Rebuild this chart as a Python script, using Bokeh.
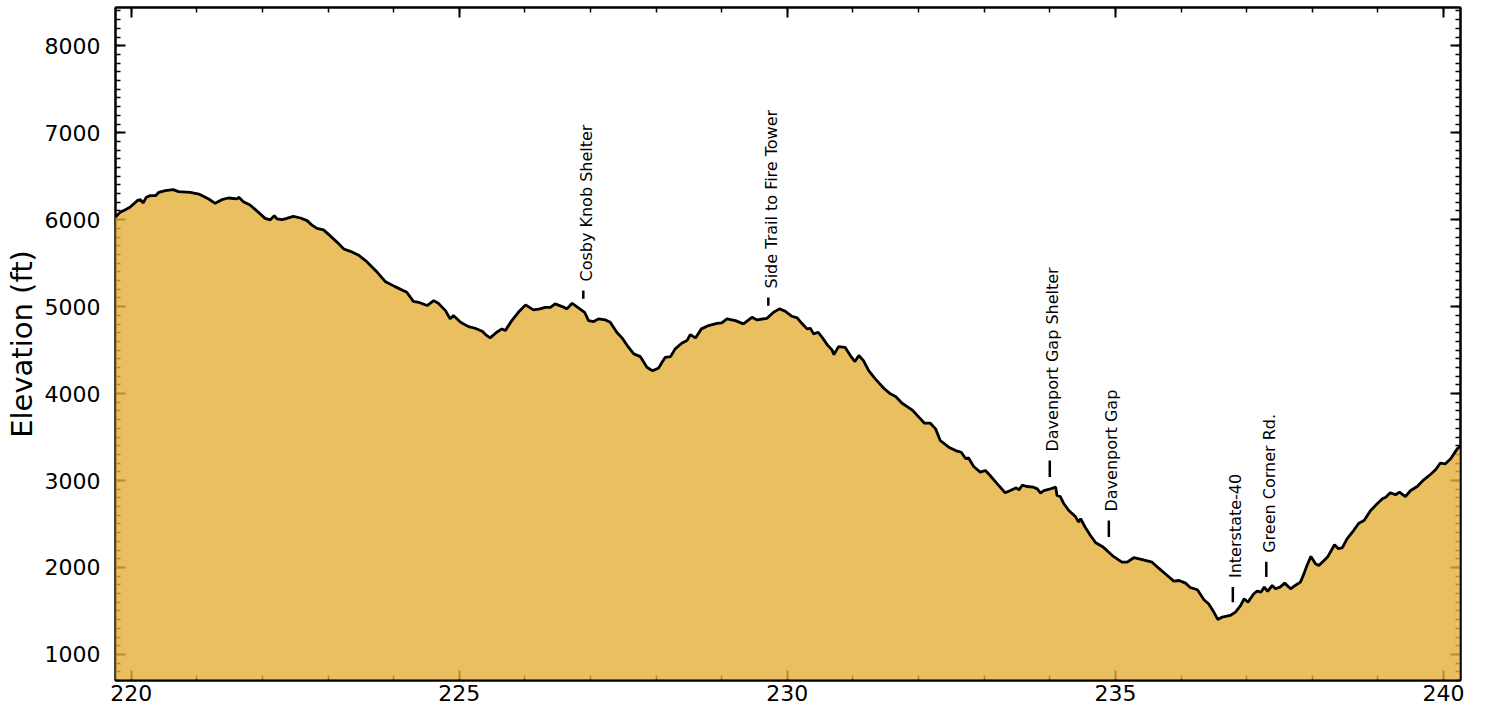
import math
from bokeh.plotting import figure
from bokeh.models import LinearAxis, SingleIntervalTicker, Range1d
from bokeh.core.properties import value
from bokeh.embed import file_html
from bokeh.resources import INLINE

# ---------------- data ----------------
miles = [
    219.76, 219.83, 219.91, 219.98, 220.09, 220.14, 220.18, 220.23, 220.29, 220.37,
    220.42, 220.52, 220.64, 220.72, 220.90, 221.03, 221.18, 221.28, 221.38, 221.48,
    221.61, 221.64, 221.71, 221.81, 221.94, 222.04, 222.12, 222.18, 222.22, 222.30,
    222.37, 222.47, 222.58, 222.68, 222.75, 222.83, 222.93, 223.03, 223.14, 223.24,
    223.34, 223.46, 223.59, 223.75, 223.87,
    224.02, 224.20, 224.30, 224.38, 224.51, 224.61, 224.68, 224.79, 224.86, 224.91,
    225.02, 225.14, 225.24, 225.35, 225.40, 225.47, 225.57, 225.65, 225.70, 225.80,
    225.90, 226.01, 226.13, 226.23, 226.31, 226.39, 226.46, 226.57, 226.64, 226.72,
    226.79, 226.91, 226.97, 227.05, 227.12, 227.23, 227.30, 227.40, 227.48, 227.56,
    227.66, 227.76, 227.86, 227.94, 227.99, 228.04, 228.09, 228.14,
    228.22, 228.29, 228.39, 228.47, 228.52, 228.60, 228.69, 228.80, 228.93, 229.00,
    229.08, 229.21, 229.33, 229.46, 229.54, 229.69, 229.79, 229.88, 229.97, 230.07,
    230.15, 230.22, 230.30, 230.35, 230.40, 230.47, 230.53, 230.61, 230.68, 230.71,
    230.78, 230.88, 230.96, 231.03, 231.09, 231.16, 231.24, 231.34, 231.47, 231.57,
    231.65, 231.75, 231.90, 232.03, 232.09, 232.18, 232.26,
    232.33, 232.46, 232.59, 232.65, 232.72, 232.76, 232.84, 232.94, 233.02, 233.09,
    233.20, 233.32, 233.40, 233.49, 233.53, 233.58, 233.65, 233.75, 233.81, 233.86,
    233.91, 233.98, 234.09, 234.11, 234.16, 234.21, 234.29, 234.39, 234.44, 234.47,
    234.54, 234.62, 234.70, 234.80, 234.87, 234.97, 235.10, 235.18, 235.28, 235.41,
    235.56, 235.66, 235.79, 235.89, 235.97, 236.07, 236.14, 236.25, 236.35, 236.42,
    236.50, 236.56, 236.63, 236.75, 236.83, 236.91, 236.96, 237.02, 237.11, 237.16,
    237.22, 237.27, 237.32, 237.39, 237.44, 237.51, 237.58, 237.67, 237.74, 237.82,
    237.87, 237.92, 237.98, 238.05, 238.10, 238.18, 238.24, 238.34, 238.40, 238.46,
    238.53, 238.63, 238.71, 238.79, 238.89, 238.99, 239.07, 239.12, 239.19, 239.27,
    239.33, 239.42, 239.50, 239.60, 239.70, 239.80, 239.88, 239.95, 240.03, 240.11,
    240.21, 240.25,
]

elevation_ft = [
    6030, 6084, 6115, 6142, 6218, 6230, 6192, 6257, 6276, 6276,
    6314, 6333, 6345, 6322, 6314, 6295, 6238, 6188, 6230, 6249,
    6238, 6257, 6207, 6169, 6084, 6015, 5997, 6046, 6008, 6000,
    6015, 6038, 6019, 5989, 5940, 5900, 5882, 5816, 5739, 5663,
    5636, 5594, 5517, 5394, 5290,
    5230, 5165, 5061, 5050, 5012, 5069, 5038, 4954, 4859, 4897,
    4820, 4770, 4751, 4716, 4678, 4640, 4705, 4744, 4724, 4839,
    4935, 5020, 4962, 4974, 4992, 4992, 5031, 5000, 4974, 5038,
    5000, 4935, 4839, 4828, 4859, 4847, 4820, 4705, 4640, 4552,
    4456, 4425, 4302, 4264, 4276, 4295, 4360, 4417,
    4425, 4514, 4578, 4609, 4678, 4640, 4744, 4782, 4808, 4813,
    4859, 4839, 4801, 4877, 4847, 4866, 4935, 4974, 4946, 4889,
    4870, 4808, 4744, 4751, 4686, 4705, 4647, 4560, 4502, 4448,
    4540, 4532, 4437, 4368, 4437, 4379, 4264, 4169, 4061, 3997,
    3966, 3889, 3813, 3709, 3659, 3659, 3594,
    3460, 3383, 3337, 3325, 3250, 3261, 3161, 3096, 3115, 3058,
    2962, 2859, 2885, 2916, 2893, 2946, 2931, 2923, 2904, 2854,
    2885, 2897, 2923, 2828, 2816, 2739, 2655, 2586, 2521, 2560,
    2463, 2368, 2284, 2242, 2196, 2127, 2061, 2061, 2112, 2089,
    2061, 1992, 1908, 1843, 1850, 1820, 1770, 1744, 1629, 1583,
    1487, 1402, 1429, 1448, 1487, 1563, 1640, 1602, 1698, 1728,
    1717, 1774, 1724, 1793, 1755, 1774, 1820, 1755, 1793, 1831,
    1920, 2023, 2127, 2043, 2023, 2081, 2127, 2261, 2215, 2227,
    2330, 2425, 2509, 2540, 2655, 2732, 2790, 2808, 2859, 2836,
    2866, 2816, 2885, 2931, 3008, 3069, 3123, 3199, 3192, 3250,
    3364, 3391,
]

landmarks = ["Cosby Knob Shelter", "Side Trail to Fire Tower", "Davenport Gap Shelter",
             "Davenport Gap", "Interstate-40", "Green Corner Rd."]
landmark_mile = [226.89, 229.71, 234.00, 234.90, 236.79, 237.30]
landmark_elev = [4950, 4870, 2900, 2210, 1460, 1750]

x_min, x_max = 219.76, 240.26
y_min, y_max = 700, 8440
x_ticks_major = 5
y_ticks_major = 1000

assert len(miles) == len(elevation_ft)

# ---------------- styling ----------------
FONT = "DejaVu Sans"
FILL = "#e4af38"          # drawn at alpha 0.8 over white -> ~#e9bf60
marker_gap_ft = 140
marker_len_ft = [95, 95, 190, 190, 175, 175]

p = figure(width=1473, height=712,
           x_range=Range1d(x_min, x_max), y_range=Range1d(y_min, y_max),
           output_backend="svg", toolbar_location=None,
           min_border_left=115, min_border_right=13,
           min_border_top=7, min_border_bottom=32)
p.background_fill_color = "white"
p.border_fill_color = "white"
p.xgrid.visible = False
p.ygrid.visible = False
p.outline_line_color = "black"
p.outline_line_width = 2


def style_axis(ax, ticker, show_labels):
    ax.ticker = ticker
    ax.major_tick_in = 10
    ax.major_tick_out = 0
    ax.minor_tick_in = 5
    ax.minor_tick_out = 0
    ax.major_tick_line_color = "black"
    ax.minor_tick_line_color = "black"
    ax.major_tick_line_width = 2
    ax.minor_tick_line_width = 1.5
    ax.axis_line_color = "black"
    ax.axis_line_width = 2
    ax.major_label_text_font = FONT
    ax.major_label_text_color = "black"
    if show_labels:
        ax.major_label_text_font_size = "22px"
    else:
        ax.major_label_text_font_size = "0px"
        ax.major_label_text_color = None
        ax.major_label_standoff = 0


xt = SingleIntervalTicker(interval=x_ticks_major, num_minor_ticks=5)
yt = SingleIntervalTicker(interval=y_ticks_major, num_minor_ticks=10)

style_axis(p.xaxis[0], xt, True)
p.xaxis[0].major_label_standoff = 4
style_axis(p.yaxis[0], yt, True)
p.yaxis[0].major_label_standoff = 15
p.yaxis[0].axis_label = "Elevation (ft)"
p.yaxis[0].axis_label_text_font = FONT
p.yaxis[0].axis_label_text_font_size = "29px"
p.yaxis[0].axis_label_text_font_style = "normal"
p.yaxis[0].axis_label_text_color = "black"
p.yaxis[0].axis_label_standoff = 3

top_ax = LinearAxis()
style_axis(top_ax, SingleIntervalTicker(interval=x_ticks_major, num_minor_ticks=5), False)
p.add_layout(top_ax, "above")
right_ax = LinearAxis()
style_axis(right_ax, SingleIntervalTicker(interval=y_ticks_major, num_minor_ticks=10), False)
p.add_layout(right_ax, "right")

# elevation profile (drawn above the axis ticks, semi-opaque like the original)
base = y_min + 15
p.varea(x=miles, y1=base, y2=elevation_ft, fill_color=FILL, fill_alpha=0.8, level="annotation")
p.line(miles, elevation_ft, line_color="black", line_width=2.8, level="annotation")

# landmark markers and labels
m_bottom = [e + marker_gap_ft for e in landmark_elev]
m_top = [b + l for b, l in zip(m_bottom, marker_len_ft)]
p.segment(x0=landmark_mile, y0=m_bottom, x1=landmark_mile, y1=m_top,
          line_color="black", line_width=2.5, level="annotation")
p.text(x=landmark_mile, y=m_top, text=landmarks, angle=math.pi / 2,
       text_align="left", text_baseline="middle",
       text_font=value(FONT), text_font_size="16px", text_color="black",
       x_offset=3, y_offset=-9, level="annotation")

open("out.html", "w").write(file_html(p, INLINE))
